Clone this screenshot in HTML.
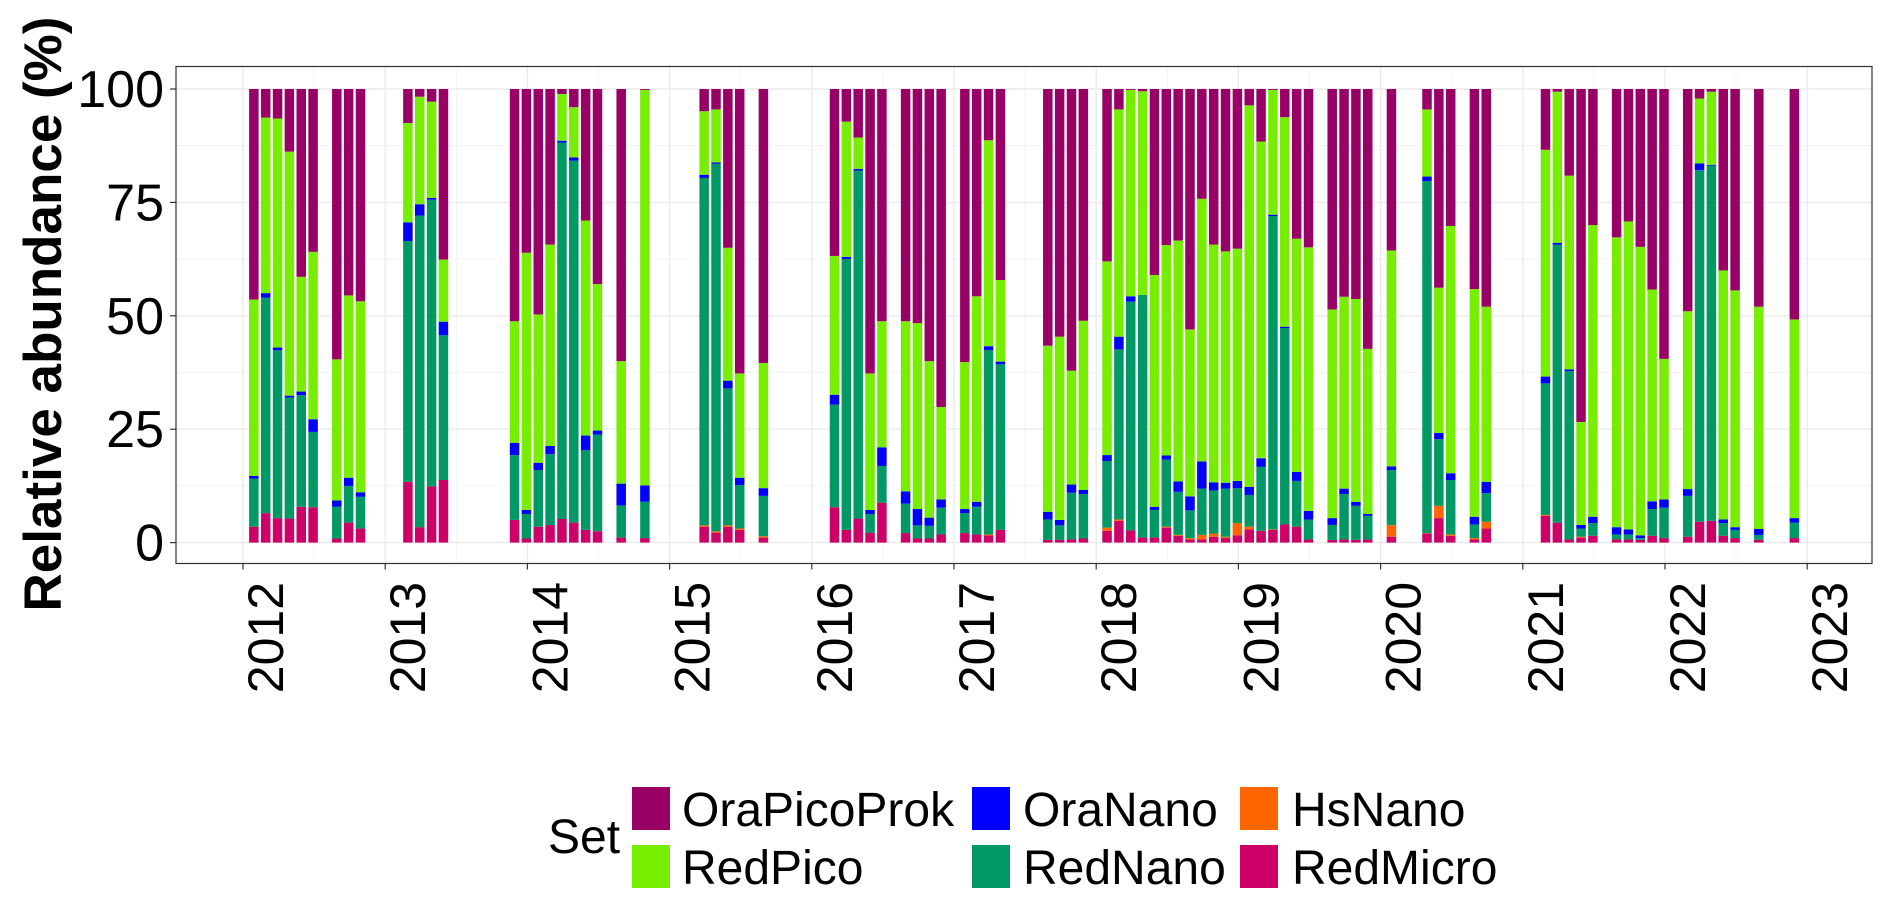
<!DOCTYPE html>
<html><head><meta charset="utf-8"><title>Relative abundance</title>
<style>
html,body{margin:0;padding:0;background:#fff;}
svg{display:block;font-family:"Liberation Sans",Arial,sans-serif;}
</style></head>
<body>
<svg id="chart" width="1892" height="908" viewBox="0 0 1892 908">
  <g id="grid"></g>
  <g id="bars"></g>
  <rect x="176" y="66.5" width="1696" height="497" fill="none" stroke="#333" stroke-width="1.2"/>
  <g id="yaxis"></g>
  <g id="xaxis"></g>
  <text x="0" y="0" transform="translate(61,314) rotate(-90)" text-anchor="middle" font-size="53" font-weight="bold" fill="#000">Relative abundance (%)</text>
  <g id="legend">
    <text x="548" y="853" font-size="48" fill="#000">Set</text>
  </g>
</svg>
<script>
const dates = ["2012-02","2012-03","2012-04","2012-05","2012-06","2012-07","2012-09","2012-10","2012-11",
"2013-03","2013-04","2013-05","2013-06","2013-12","2014-01","2014-02","2014-03","2014-04","2014-05","2014-06","2014-07",
"2014-09","2014-11","2015-04","2015-05","2015-06","2015-07","2015-09","2016-03","2016-04","2016-05","2016-06","2016-07",
"2016-09","2016-10","2016-11","2016-12","2017-02","2017-03","2017-04","2017-05","2017-09","2017-10","2017-11","2017-12",
"2018-02","2018-03","2018-04","2018-05","2018-06","2018-07","2018-08","2018-09","2018-10","2018-11","2018-12","2019-01",
"2019-02","2019-03","2019-04","2019-05","2019-06","2019-07","2019-09","2019-10","2019-11","2019-12","2020-02",
"2020-05","2020-06","2020-07","2020-09","2020-10","2021-03","2021-04","2021-05","2021-06","2021-07",
"2021-09","2021-10","2021-11","2021-12","2022-01","2022-03","2022-04","2022-05","2022-06","2022-07","2022-09","2022-12"];
const redMicro = [3.5,6.5,5.4,5.3,7.9,7.8,0.9,4.4,3.1,13.4,3.4,12.4,13.8,5,0.9,3.5,3.9,5.2,4.4,2.8,2.5,1.1,1,3.5,2.2,3.5,2.8,1.1,7.8,2.8,5.3,2.2,8.8,2.1,0.9,0.9,1.8,2.1,1.8,1.6,2.8,0.6,0.6,0.7,0.9,2.6,4.8,2.7,1.1,1.1,3.3,1.5,0.7,0.7,1.3,1,1.6,2.9,2.6,2.8,4,3.5,0.7,0.6,0.7,0.6,0.7,1.3,2,5.4,1.5,0.7,3.1,5.9,4.4,0.7,1.1,1.5,0.7,0.7,0.6,1.5,1,1.3,4.6,4.8,1.5,1,0.6,1];
const hsNano = [0,0,0,0,0,0,0,0,0,0,0,0,0,0,0,0,0,0,0,0,0,0,0,0.3,0.3,0.3,0.3,0.3,0,0,0,0,0,0,0,0,0,0,0,0.2,0,0,0,0,0,0.7,0.3,0,0,0,0.2,0.2,0.3,1,0.7,0.3,2.7,0.6,0,0.1,0,0,0,0,0,0,0,2.6,0.1,2.7,0.3,0.3,1.5,0.2,0,0,0.2,0,0,0,0,0,0,0,0,0,0,0,0,0];
const redNano = [10.6,47.5,37,26.7,24.6,16.6,7,8.1,7,53.1,68.7,63.2,31.9,14.3,5.4,12.5,15.6,83,79.8,17.6,21.3,7.1,8,76.6,81,30.2,9.6,8.9,22.6,59.7,76.7,4.1,8.1,6.5,2.9,2.8,5.9,4.4,6.1,40.6,36.5,4.5,3.2,10.3,9.8,14.7,37.5,50.4,53.5,6.1,14.8,9.5,6.1,10.2,9.5,10.6,7.7,7,14.1,69.1,43.3,10.1,4.4,3.3,10,7.5,5.2,12.1,77.6,14.7,12,3,6.3,29,61.3,37.1,1.8,2.8,1.1,1.1,0.4,5.9,6.7,9,77.5,78.3,2.8,1.8,1.1,3.4];
const oraNano = [0.6,1,0.6,0.4,0.8,2.8,1.4,1.8,1,4.1,2.5,0.4,3,2.7,0.9,1.6,1.8,0.4,0.7,3.2,0.9,4.8,3.6,0.7,0.3,1.7,1.6,1.7,2.2,0.5,0.4,0.9,4.1,2.7,3.6,1.8,1.8,0.9,1.1,0.9,0.6,1.7,1.2,1.8,0.9,1.3,2.8,1.2,0,0.7,0.9,2.3,3.1,6,1.8,1.3,1.6,1.8,1.9,0.3,0.3,2,1.9,1.5,1.2,0.9,0.4,0.8,1,1.4,1.5,1.7,2.5,1.5,0.4,0.4,0.8,1.4,1.6,1.1,0.6,1.7,1.8,1.5,1.5,0.2,0.8,0.6,1.3,1];
const redPico = [38.9,38.7,50.5,53.8,25.3,36.9,31.1,40.2,42.1,21.9,23.7,21.2,13.7,26.8,56.7,32.7,44.4,10.3,11.1,47.4,32.3,27,87.2,14,11.7,29.3,23,27.6,30.6,29.8,6.9,30.1,27.8,37.5,41,34.5,20.4,32.4,45.3,45.4,18,36.6,40.4,25.1,37.3,42.7,50.1,45.5,44.9,51.1,46.4,53.1,36.8,57.9,52.4,51,51.2,84.1,69.8,27.5,46.2,51.4,58.1,46,42.3,44.7,36.4,47.6,14.8,32,54.5,50.2,38.6,50,33.3,42.7,22.7,64.3,63.9,67.9,63.6,46.7,31,39.2,14.3,16.1,54.9,52.2,49,43.8];
const oraPicoProk = [46.4,6.3,6.5,13.8,41.4,35.9,59.6,45.5,46.8,7.5,1.7,2.8,37.6,51.2,36.1,49.7,34.3,1.1,4,29,43,60,0.2,4.9,4.5,35,62.7,60.4,36.8,7.2,10.7,62.7,51.2,51.2,51.6,60,70.1,60.2,45.7,11.3,42.1,56.6,54.6,62.1,51.1,38,4.5,0.2,0.5,41,34.4,33.4,53,24.2,34.3,35.8,35.2,3.6,11.6,0.2,6.2,33,34.9,48.6,45.8,46.3,57.3,35.6,4.5,43.8,30.2,44.1,48,13.4,0.6,19.1,73.4,30,32.7,29.2,34.8,44.2,59.5,49,2.1,0.6,40,44.4,48,50.8];
const yTicks = ["0","25","50","75","100"];
const xTicks = ["2012","2013","2014","2015","2016","2017","2018","2019","2020","2021","2022","2023"];
const seriesNames = ["RedMicro","HsNano","RedNano","OraNano","RedPico","OraPicoProk"];

const NS = "http://www.w3.org/2000/svg";
const colors = {RedMicro:"#cc0066",HsNano:"#ff6600",RedNano:"#009966",OraNano:"#0000ff",RedPico:"#77ee00",OraPicoProk:"#990066"};
const series = [redMicro,hsNano,redNano,oraNano,redPico,oraPicoProk];
const X0 = 243, PXY = 142.2, Y0 = 542.6, PXP = 4.536;
function xScale(t){ return X0 + (t - 2012) * PXY; }
function yScale(v){ return Y0 - v * PXP; }
function mk(tag, attrs, parent){ const e = document.createElementNS(NS, tag); for (const k in attrs) e.setAttribute(k, attrs[k]); parent.appendChild(e); return e; }

const grid = document.getElementById('grid');
// minor horizontal
for (let i = 0; i < yTicks.length - 1; i++) {
  const v = (+yTicks[i] + +yTicks[i+1]) / 2;
  const l = mk('line', {x1:176, x2:1872, y1:yScale(v), y2:yScale(v), stroke:'#f0f0f0', 'stroke-width':0.8}, grid);
  
  
}
for (let i = 0; i < xTicks.length; i++) {
  const t = +xTicks[i] - 0.5;
  if (xScale(t) > 176) {
    const l = mk('line', {x1:xScale(t), x2:xScale(t), y1:66.5, y2:563.5, stroke:'#f0f0f0', 'stroke-width':0.8}, grid);
    
    
  }
}
const yaxis = document.getElementById('yaxis');
yTicks.forEach(tk => {
  const y = yScale(+tk);
  const g = mk('line', {x1:176, x2:1872, y1:y, y2:y, stroke:'#ebebeb', 'stroke-width':1.4}, grid);
  
  
  const t = mk('line', {x1:170, x2:176, y1:y, y2:y, stroke:'#333', 'stroke-width':1.2}, yaxis);
  
  
  const lb = mk('text', {x:164, y:y + 18, 'text-anchor':'end', 'font-size':52, fill:'#000'}, yaxis);
  lb.textContent = tk;
  
  
});
const xaxis = document.getElementById('xaxis');
xTicks.forEach(tk => {
  const x = xScale(+tk);
  const g = mk('line', {x1:x, x2:x, y1:66.5, y2:563.5, stroke:'#ebebeb', 'stroke-width':1.4}, grid);
  
  
  const t = mk('line', {x1:x, x2:x, y1:563.5, y2:569.5, stroke:'#333', 'stroke-width':1.2}, xaxis);
  
  
  const lb = mk('text', {x:0, y:0, transform:'translate(' + (x + 40) + ',582) rotate(-90)', 'text-anchor':'end', 'font-size':50, fill:'#000'}, xaxis);
  lb.textContent = tk;
  
  
});

const bars = document.getElementById('bars');
const BW = 9.5;
dates.forEach((d, i) => {
  const [yy, mm] = d.split('-').map(Number);
  const cx = xScale(yy + (mm - 1) / 12) - 1;
  let cum = 0;
  series.forEach((s, k) => {
    const v = s[i];
    if (v <= 0) return;
    const y1 = yScale(cum + v), y0 = yScale(cum);
    cum += v;
    const r = mk('rect', {x:cx - BW/2, y:y1, width:BW, height:Math.max(0, y0 - y1), fill:colors[seriesNames[k]]}, bars);
    
    
  });
});

const legend = document.getElementById('legend');
const legendItems = [["OraPicoProk",632,787,682],["RedPico",632,845,682],["OraNano",972,787,1023],["RedNano",972,845,1023],["HsNano",1240,787,1292],["RedMicro",1240,845,1292]];
legendItems.forEach(it => {
  const r = mk('rect', {x:it[1], y:it[2], width:38, height:43, fill:colors[it[0]]}, legend);
  
  
  const t = mk('text', {x:it[3], y:it[2] + 39, 'font-size':48, fill:'#000'}, legend);
  t.textContent = it[0];
  
  
});
</script>
</body></html>
